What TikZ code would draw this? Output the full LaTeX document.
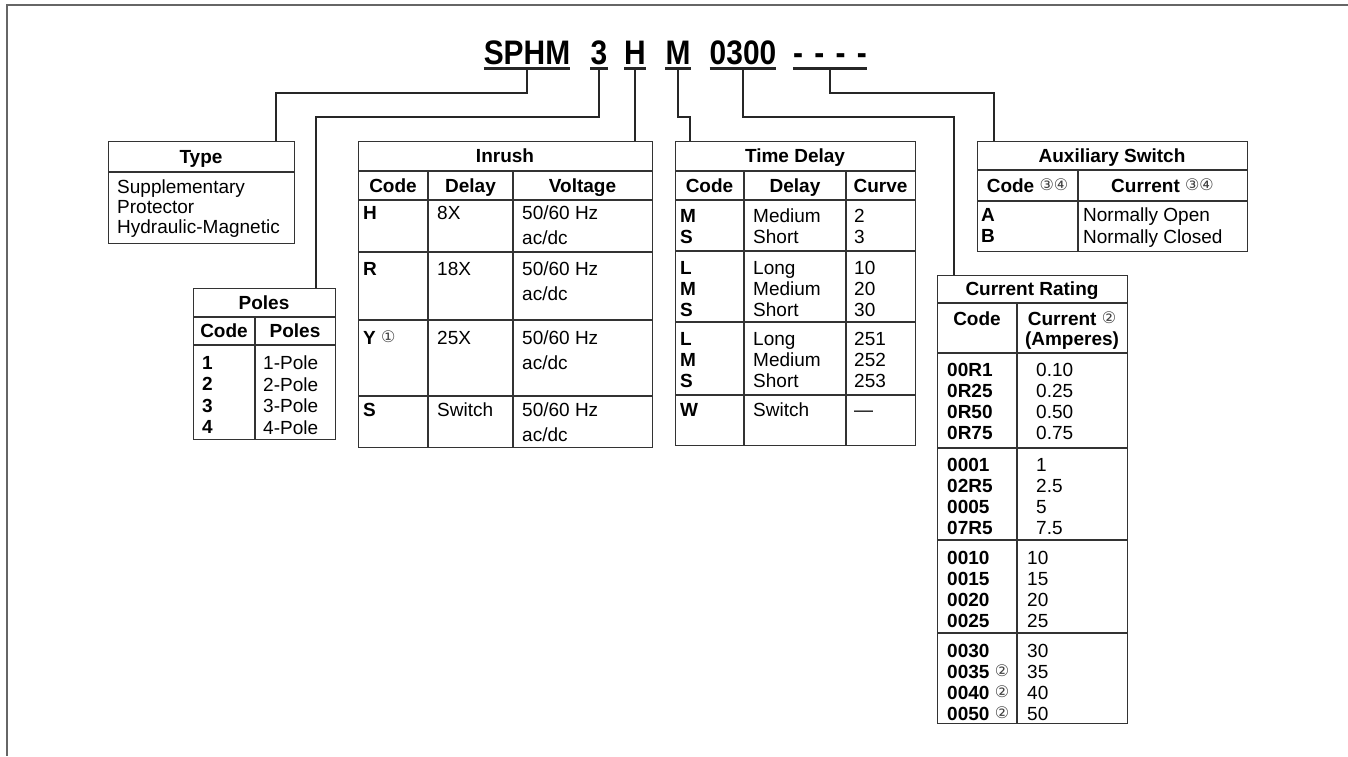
\documentclass[tikz,border=0pt]{standalone}
\usepackage{fontspec}
\setmainfont{Liberation Sans}
\newfontfamily\circfont{DejaVu Sans}
\newfontfamily\titlefont[FakeStretch=0.88]{Liberation Sans Bold}
\usetikzlibrary{positioning}

\newcommand{\circnum}[1]{\smash{\raisebox{1.5pt}{\circfont\mdseries\fontsize{16}{16}\selectfont\color{black!75}#1}}}

\begin{document}
\begin{tikzpicture}[
  x={(1pt,0)}, y={(0,-1pt)},
  frame/.style={draw=black!60, line width=2.5pt},
  tbl/.style={rectangle, draw=black!80, line width=1.3pt, inner sep=0pt, anchor=north west},
  rule/.style={draw=black!80, line width=1.3pt},
  lead/.style={draw=black!85, line width=1.3pt},
  uline/.style={draw=black!85, line width=2.6pt},
  ttl/.style={font=\titlefont\fontsize{34}{34}\selectfont, anchor=base, inner sep=0pt},
  hd/.style={font=\bfseries\fontsize{19}{21}\selectfont, inner sep=0pt, text height=13.6pt, text depth=0pt},
  cell/.style={anchor=north west, inner sep=0pt, align=left, font=\fontsize{19}{21}\selectfont},
  code/.style={cell, font=\bfseries\fontsize{19}{21}\selectfont}
]
\useasboundingbox (0,0) rectangle (1348,756);
\draw[frame] (1348,5) -- (7,5) -- (7,756);

%% ── Part number ────────────────────────────────────────────────
\node[ttl] (tS) at (527,64) {SPHM};
\node[ttl] (tP) at (599,64) {3};
\node[ttl] (tI) at (635,64) {H};
\node[ttl] (tD) at (678,64) {M};
\node[ttl] (tC) at (743,64) {0300};
\node[ttl] (tA) at (830,64) {-\,\,-\,\,-\,\,-};
\foreach \t in {tS,tP,tI,tD,tC,tA}
  \draw[uline] ([yshift=-4.5pt]\t.base west) -- ([yshift=-4.5pt]\t.base east);

%% ── Type ───────────────────────────────────────────────────────
\node[tbl, minimum width=186pt, minimum height=102pt] (typ) at (108,141) {};
\draw[rule] (typ.west |- 0,172) -- (typ.east |- 0,172);
\node[hd] (typH) at (201,156.5) {Type};
\node[cell, font=\fontsize{19}{20}\selectfont] (typB) at (117,180)
  {Supplementary\\Protector\\Hydraulic-Magnetic};

%% ── Poles ──────────────────────────────────────────────────────
\node[tbl, minimum width=142pt, minimum height=151pt] (pol) at (193,288) {};
\draw[rule] (pol.west |- 0,317) -- (pol.east |- 0,317);
\draw[rule] (pol.west |- 0,345) -- (pol.east |- 0,345);
\draw[rule] (255,0 |- 0,317) -- (255,0 |- pol.south);
\node[hd] (polH) at (264,302.5) {Poles};
\node[hd] (polC) at (224,331) {Code};
\node[hd] (polP) at (295,331) {Poles};
\node[code, font=\bfseries\fontsize{19}{21.5}\selectfont] (polK) at (202,356) {1\\2\\3\\4};
\node[cell, font=\fontsize{19}{21.5}\selectfont] (polV) at (263,356) {1-Pole\\2-Pole\\3-Pole\\4-Pole};

%% ── Inrush ─────────────────────────────────────────────────────
\node[tbl, minimum width=294pt, minimum height=306pt] (inr) at (358,141) {};
\foreach \yy in {171,200,252,320,396}
  \draw[rule] (inr.west |- 0,\yy) -- (inr.east |- 0,\yy);
\foreach \xx in {428,513}
  \draw[rule] (\xx,171) -- (\xx,0 |- inr.south);
\node[hd] (inrH) at (505,156) {Inrush};
\node[hd] (inrC) at (393,185.5) {Code};
\node[hd] (inrD) at (470.5,185.5) {Delay};
\node[hd] (inrV) at (582.5,185.5) {Voltage};
\foreach \yy/\k/\d [count=\i] in {206/H/8X, 262/R/18X, 331/Y \circnum{①}/25X, 403/S/Switch} {
  \node[code] (inrK\i) at (363,\yy) {\k};
  \node[cell] (inrD\i) at (437,\yy) {\d};
  \node[cell, font=\fontsize{19}{25}\selectfont] (inrV\i) at (522,\yy) {50/60 Hz\\ac/dc};
}

%% ── Time Delay ─────────────────────────────────────────────────
\node[tbl, minimum width=240pt, minimum height=304pt] (tdl) at (675,141) {};
\foreach \yy in {171,200,251,322,395}
  \draw[rule] (tdl.west |- 0,\yy) -- (tdl.east |- 0,\yy);
\foreach \xx in {744,846}
  \draw[rule] (\xx,171) -- (\xx,0 |- tdl.south);
\node[hd] (tdlH) at (795,156) {Time Delay};
\node[hd] (tdlC) at (709.5,185.5) {Code};
\node[hd] (tdlD) at (795,185.5) {Delay};
\node[hd] (tdlV) at (880.5,185.5) {Curve};
\node[code] (tdlK1) at (680,209) {M\\S};
\node[cell] (tdlD1) at (753,209) {Medium\\Short};
\node[cell] (tdlV1) at (854,209) {2\\3};
\node[code] (tdlK2) at (680,261) {L\\M\\S};
\node[cell] (tdlD2) at (753,261) {Long\\Medium\\Short};
\node[cell] (tdlV2) at (854,261) {10\\20\\30};
\node[code] (tdlK3) at (680,332) {L\\M\\S};
\node[cell] (tdlD3) at (753,332) {Long\\Medium\\Short};
\node[cell] (tdlV3) at (854,332) {251\\252\\253};
\node[code] (tdlK4) at (680,403) {W};
\node[cell] (tdlD4) at (753,403) {Switch};
\node[cell] (tdlV4) at (854,403) {\vphantom{W}---};

%% ── Auxiliary Switch ───────────────────────────────────────────
\node[tbl, minimum width=270pt, minimum height=110pt] (aux) at (977,141) {};
\draw[rule] (aux.west |- 0,170) -- (aux.east |- 0,170);
\draw[rule] (aux.west |- 0,201) -- (aux.east |- 0,201);
\draw[rule] (1078,170) -- (1078,0 |- aux.south);
\node[hd] (auxH) at (1112,155.5) {Auxiliary Switch};
\node[hd] (auxC) at (1027.5,185.5) {Code \circnum{③④}};
\node[hd] (auxV) at (1162.5,185.5) {Current \circnum{③④}};
\node[code, font=\bfseries\fontsize{19}{21.5}\selectfont] (auxK) at (981,208) {A\\B};
\node[cell, font=\fontsize{19}{21.5}\selectfont] (auxT) at (1083,208) {Normally Open\\Normally Closed};

%% ── Current Rating ─────────────────────────────────────────────
\node[tbl, minimum width=190pt, minimum height=448pt] (cur) at (937,275) {};
\foreach \yy in {303,353,448,540,633}
  \draw[rule] (cur.west |- 0,\yy) -- (cur.east |- 0,\yy);
\draw[rule] (1017,303) -- (1017,0 |- cur.south);
\node[hd] (curH) at (1032,289) {Current Rating};
\node[hd] (curC) at (977,319) {Code};
\node[inner sep=0pt, align=center, font=\bfseries\fontsize{19}{20}\selectfont, anchor=north] (curA) at (1072,312)
  {Current \circnum{②}\\(Amperes)};
\node[code] (curK1) at (947,363) {00R1\\0R25\\0R50\\0R75};
\node[cell] (curV1) at (1036,363) {0.10\\0.25\\0.50\\0.75};
\node[code] (curK2) at (947,458) {0001\\02R5\\0005\\07R5};
\node[cell] (curV2) at (1036,458) {1\\2.5\\5\\7.5};
\node[code] (curK3) at (947,551) {0010\\0015\\0020\\0025};
\node[cell] (curV3) at (1027,551) {10\\15\\20\\25};
\node[code] (curK4) at (947,644) {0030\\0035 \circnum{②}\\0040 \circnum{②}\\0050 \circnum{②}};
\node[cell] (curV4) at (1027,644) {30\\35\\40\\50};

%% ── Leaders ────────────────────────────────────────────────────
\draw[lead] ([yshift=-4.5pt]tS.base) -- ++(0,24.5) -| (276,0 |- typ.north);
\draw[lead] ([yshift=-4.5pt]tP.base) -- ++(0,48.5) -| (316,0 |- pol.north);
\draw[lead] ([yshift=-4.5pt]tI.base) -- (tI.base |- inr.north);
\draw[lead] ([yshift=-4.5pt]tD.base) -- ++(0,48.5) -| (690,0 |- tdl.north);
\draw[lead] ([yshift=-4.5pt]tC.base) -- ++(0,48.5) -| (954,0 |- cur.north);
\draw[lead] ([yshift=-4.5pt]tA.base) -- ++(0,24.5) -| (994,0 |- aux.north);

\end{tikzpicture}
\end{document}
